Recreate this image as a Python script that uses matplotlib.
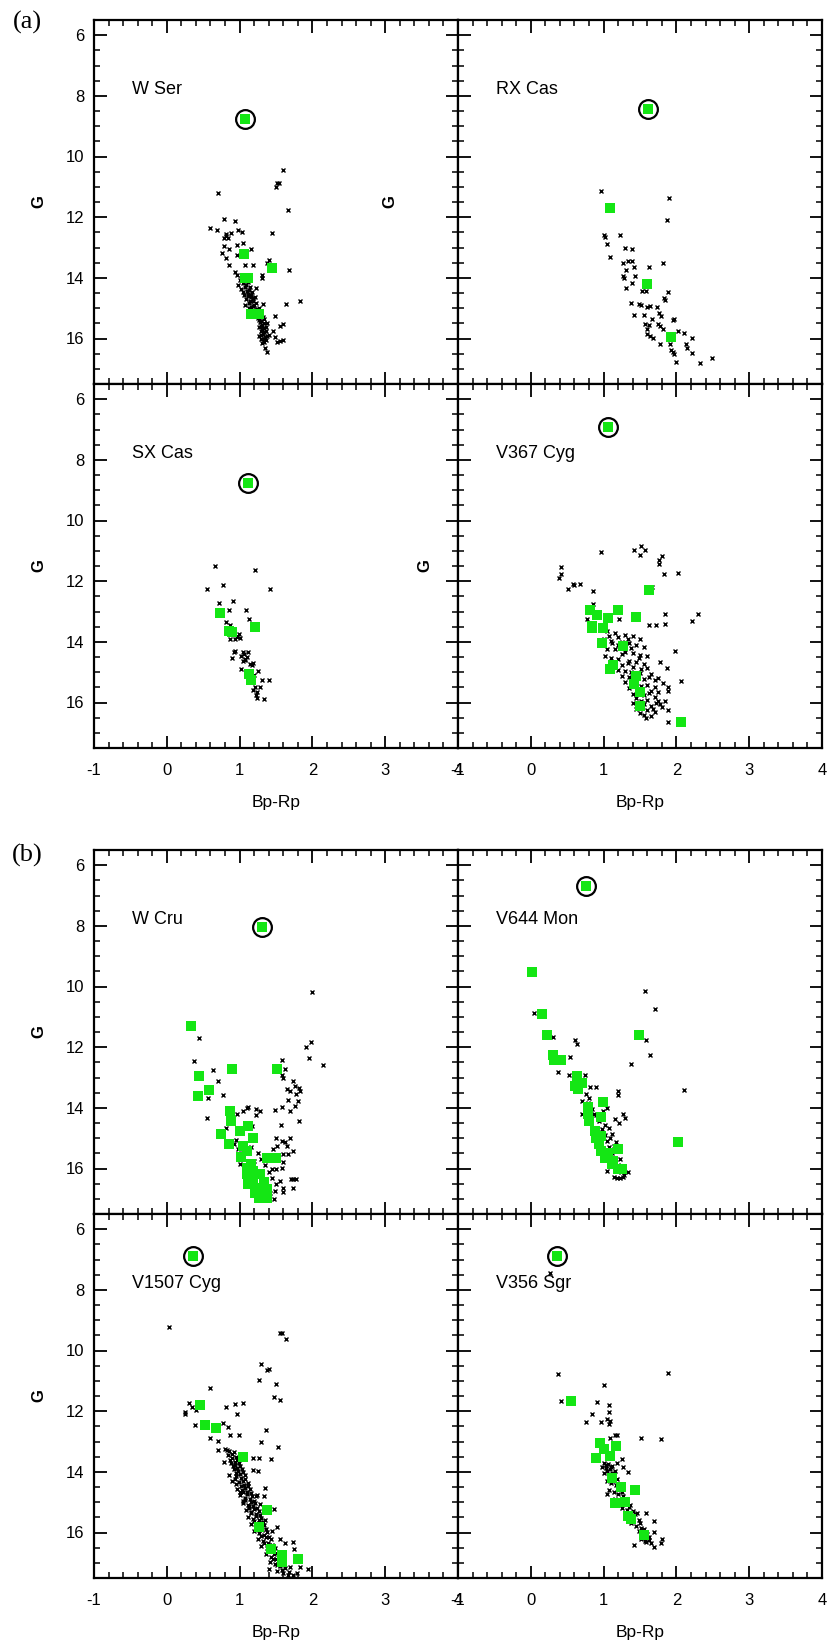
import matplotlib
matplotlib.use("Agg")
import matplotlib.pyplot as plt
from matplotlib.ticker import MultipleLocator

plt.rcParams['font.family'] = ['Liberation Sans', 'DejaVu Sans']

GREEN = '#14e614'

# ---- W Ser ----
wser_target = (1.08, 8.77)
wser_green = [(1.06, 13.22), (1.07, 14.01), (1.12, 14.01), (1.45, 13.69),
              (1.15, 15.20), (1.26, 15.18)]
wser_field = [(1.60, 10.44), (1.52, 10.89), (1.54, 10.87), (1.50, 10.99), (0.70, 11.19),
              (1.66, 11.78), (0.79, 12.05), (0.94, 12.13), (0.60, 12.35), (0.69, 12.42),
              (0.98, 12.41), (1.03, 12.50), (0.88, 12.52), (0.82, 12.55), (0.82, 12.63),
              (0.79, 12.69), (0.84, 12.70), (1.45, 12.53), (1.05, 12.84), (0.96, 12.92),
              (0.78, 12.96), (0.85, 13.05), (1.15, 13.05), (0.76, 13.18), (0.97, 13.26),
              (0.82, 13.36), (1.41, 13.42), (1.37, 13.52), (0.85, 13.58), (1.19, 13.58),
              (1.07, 13.58), (1.68, 13.74), (0.93, 13.82), (0.96, 13.91), (1.31, 13.91),
              (1.31, 14.02), (1.64, 14.85), (1.83, 14.78), (1.32, 14.86), (1.49, 15.26),
              (1.59, 15.53), (1.55, 15.58), (1.48, 15.96), (1.46, 15.74), (1.60, 16.05),
              (1.56, 16.08), (1.51, 16.12), (1.37, 16.43), (1.35, 16.32),
              (1.00, 14.08), (1.05, 14.18), (1.08, 14.30), (1.02, 14.36), (1.10, 14.42),
              (1.12, 14.52), (1.06, 14.56), (1.15, 14.62), (1.09, 14.70), (1.18, 14.76),
              (1.13, 14.82), (1.20, 14.88), (1.16, 14.96), (1.24, 15.02), (1.19, 15.07),
              (1.27, 15.12), (1.22, 15.22), (1.30, 15.26), (1.25, 15.32), (1.33, 15.36),
              (1.28, 15.46), (1.31, 15.55), (1.26, 15.62), (1.34, 15.66), (1.29, 15.76),
              (1.32, 15.86), (1.27, 15.92), (1.35, 15.96), (1.30, 16.02), (1.33, 16.12),
              (1.04, 14.46), (1.11, 14.14), (0.98, 14.24), (1.14, 14.30), (1.21, 14.62),
              (1.36, 15.76), (1.23, 14.32), (1.17, 14.46), (1.07, 14.88), (1.13, 15.00),
              (1.30, 15.42), (1.38, 15.48), (1.40, 15.90),
              (1.02, 14.02), (1.06, 14.12), (1.09, 14.22), (1.13, 14.40), (1.16, 14.55),
              (1.11, 14.60), (1.19, 14.68), (1.14, 14.78), (1.22, 14.82), (1.18, 14.92),
              (1.26, 14.98), (1.21, 15.12), (1.29, 15.18), (1.24, 15.26), (1.32, 15.30),
              (1.27, 15.40), (1.33, 15.50), (1.29, 15.58), (1.36, 15.62), (1.31, 15.70),
              (1.34, 15.80), (1.30, 15.90), (1.37, 15.92), (1.33, 16.00), (1.36, 16.06),
              (1.31, 16.15)]

# ---- RX Cas ----
rxcas_target = (1.61, 8.42)
rxcas_green = [(1.09, 11.69), (1.59, 14.20), (1.92, 15.95)]
rxcas_field = [(0.97, 11.14), (1.90, 11.37), (1.87, 12.09), (1.01, 12.59), (1.02, 12.64),
               (1.22, 12.59), (1.05, 12.89), (1.30, 13.01), (1.39, 13.05), (1.09, 13.32),
               (1.26, 13.52), (1.34, 13.45), (1.39, 13.45), (1.42, 13.64), (1.63, 13.64),
               (1.81, 13.52), (1.31, 13.75), (1.26, 13.95), (1.28, 14.00), (1.43, 13.95),
               (1.39, 14.16), (1.31, 14.33), (1.53, 14.42), (1.58, 14.42), (1.88, 14.46),
               (1.83, 14.68), (1.85, 14.73), (1.37, 14.84), (1.49, 14.85), (1.51, 14.89),
               (1.59, 14.96), (1.64, 14.92), (1.73, 14.96), (1.76, 15.15), (1.79, 15.25),
               (1.42, 15.24), (1.55, 15.24), (1.67, 15.36), (1.96, 15.40), (1.97, 15.36),
               (1.57, 15.52), (1.62, 15.55), (1.75, 15.53), (1.78, 15.58), (1.60, 15.69),
               (1.81, 15.69), (1.60, 15.86), (1.64, 15.91), (1.68, 15.97), (2.02, 15.75),
               (2.11, 15.82), (2.21, 15.98), (2.13, 16.19), (2.14, 16.30), (1.77, 16.19),
               (1.91, 16.19), (1.93, 16.38), (1.95, 16.46), (1.97, 16.52), (1.99, 16.76),
               (2.21, 16.49), (2.32, 16.80), (2.49, 16.63)]

# ---- SX Cas ----
sxcas_target = (1.12, 8.75)
sxcas_green = [(0.73, 13.04), (0.85, 13.64), (0.90, 13.69), (1.21, 13.51),
               (1.13, 15.07), (1.16, 15.25)]
sxcas_field = [(0.66, 11.49), (1.21, 11.64), (0.77, 12.13), (0.55, 12.27), (1.42, 12.26),
               (0.72, 12.71), (0.91, 12.67), (0.85, 12.96), (1.09, 12.96), (1.13, 13.24),
               (0.82, 13.33), (0.87, 13.45), (0.99, 13.75), (0.97, 13.84), (1.01, 13.89),
               (0.87, 13.92), (0.94, 13.92), (0.94, 14.30), (0.92, 14.33), (1.04, 14.35),
               (1.12, 14.33), (1.02, 14.46), (1.07, 14.55), (1.10, 14.49), (1.04, 14.63),
               (0.90, 14.53), (1.02, 14.91), (1.19, 14.71), (1.17, 14.77), (1.25, 14.96),
               (1.31, 15.26), (1.40, 15.27), (1.28, 15.48), (1.19, 15.59), (1.24, 15.67),
               (1.23, 15.76), (1.24, 15.84), (1.34, 15.89), (1.21, 15.48), (1.06, 14.40),
               (1.14, 14.72), (1.08, 14.60), (0.96, 13.80), (1.20, 15.10)]

# ---- V367 Cyg ----
v367_target = (1.06, 6.91)
v367_green = [(1.63, 12.30), (0.82, 12.96), (1.20, 12.95), (0.91, 13.12), (1.45, 13.18),
              (1.06, 13.22), (0.84, 13.48), (0.84, 13.53), (0.99, 13.54), (0.98, 14.04),
              (1.26, 14.13), (1.13, 14.77), (1.09, 14.89), (1.44, 15.12), (1.42, 15.40),
              (1.50, 15.66), (1.50, 16.11), (2.06, 16.65)]
v367_field = [(0.97, 11.04), (1.42, 10.97), (1.51, 10.84), (1.57, 10.97), (1.50, 11.15),
              (1.80, 11.18), (1.76, 11.31), (1.76, 11.43), (0.41, 11.53), (0.41, 11.75),
              (0.39, 11.91), (1.83, 11.77), (2.02, 11.74), (0.51, 12.26), (0.59, 12.14),
              (0.68, 12.08), (0.58, 12.08), (1.67, 12.19), (0.85, 12.32), (0.85, 12.74),
              (0.77, 13.26), (1.21, 13.26), (1.84, 13.09), (2.30, 13.09), (2.21, 13.32),
              (1.84, 13.40), (1.63, 13.44), (1.72, 13.44), (1.98, 14.31), (1.78, 14.68),
              (1.87, 14.85), (1.75, 15.18), (2.07, 15.30), (1.81, 15.37), (1.88, 15.48),
              (1.88, 15.62), (1.89, 16.26), (1.89, 16.64),
              (1.05, 13.65), (1.15, 13.72), (1.30, 13.76), (1.40, 13.82), (1.50, 13.90),
              (1.00, 13.92), (1.10, 13.96), (1.25, 14.02), (1.35, 14.05), (1.45, 14.12),
              (1.55, 14.16), (1.05, 14.22), (1.15, 14.25), (1.30, 14.32), (1.40, 14.36),
              (1.50, 14.42), (1.60, 14.46), (1.10, 14.52), (1.20, 14.55), (1.35, 14.62),
              (1.45, 14.66), (1.55, 14.72), (1.25, 14.76), (1.40, 14.82), (1.60, 14.86),
              (1.20, 14.92), (1.30, 14.96), (1.50, 15.02), (1.65, 15.06), (1.25, 15.12),
              (1.35, 15.16), (1.55, 15.22), (1.70, 15.26), (1.30, 15.32), (1.45, 15.36),
              (1.60, 15.42), (1.35, 15.52), (1.50, 15.56), (1.65, 15.62), (1.75, 15.66),
              (1.40, 15.72), (1.55, 15.76), (1.70, 15.82), (1.45, 15.86), (1.60, 15.92),
              (1.75, 15.96), (1.40, 16.02), (1.55, 16.06), (1.65, 16.12), (1.80, 16.16),
              (1.45, 16.22), (1.60, 16.26), (1.70, 16.32), (1.50, 16.36), (1.65, 16.46),
              (1.58, 16.52), (1.72, 16.02), (1.85, 15.95), (1.20, 14.12), (1.02, 14.46),
              (1.08, 13.80), (1.20, 13.85), (1.33, 13.92), (1.12, 14.05), (1.38, 14.20),
              (1.25, 14.40), (1.48, 14.52), (1.33, 14.70), (1.52, 14.90), (1.38, 15.00),
              (1.62, 15.15), (1.42, 15.25), (1.52, 15.46), (1.70, 15.50), (1.47, 15.65),
              (1.62, 15.70), (1.52, 15.95), (1.68, 16.20), (1.55, 16.40), (1.78, 16.05)]

# ---- W Cru ----
wcru_target = (1.31, 8.03)
wcru_green = [(0.33, 11.30), (0.44, 12.95), (0.89, 12.71), (1.51, 12.71), (0.58, 13.40),
              (0.43, 13.60), (0.87, 14.10), (0.88, 14.45), (0.74, 14.85), (1.12, 14.59),
              (1.01, 14.78), (0.85, 15.18), (1.19, 14.98), (1.04, 15.25), (1.10, 15.42),
              (1.02, 15.62), (1.37, 15.64), (1.50, 15.64), (1.15, 15.84), (1.10, 15.97),
              (1.19, 16.08), (1.10, 16.19), (1.28, 16.19), (1.15, 16.41), (1.33, 16.46),
              (1.24, 16.63), (1.37, 16.68), (1.12, 16.52), (1.26, 16.96), (1.37, 16.96),
              (1.19, 16.36), (1.33, 16.75), (1.21, 16.80)]
wcru_field = [(1.99, 10.18), (1.98, 11.82), (1.91, 12.01), (1.96, 12.35), (2.14, 12.59),
              (0.44, 11.70), (0.38, 12.45), (0.64, 12.76), (0.71, 13.11), (0.77, 13.57),
              (0.56, 13.68), (0.55, 14.33), (1.58, 12.42), (1.63, 12.71), (1.58, 12.91),
              (1.60, 13.00), (1.74, 13.11), (1.76, 13.27), (1.82, 13.33), (1.65, 13.38),
              (1.69, 13.44), (1.78, 13.55), (1.83, 13.46), (1.66, 13.75), (1.80, 13.77),
              (1.76, 13.93), (1.69, 14.10), (1.58, 13.97), (1.49, 14.08), (1.81, 14.43),
              (1.57, 14.57), (1.10, 13.99), (1.12, 13.96), (1.23, 14.05), (0.96, 14.21),
              (1.05, 14.12), (0.82, 14.67), (1.50, 14.98), (1.58, 15.09), (1.63, 15.14),
              (1.69, 14.98), (1.65, 15.25), (1.73, 15.42), (1.52, 15.25), (1.46, 15.36),
              (1.59, 15.53), (1.67, 15.53), (1.59, 15.80), (1.45, 16.02), (1.50, 16.02),
              (1.58, 15.97), (1.70, 16.35), (1.74, 16.33), (1.78, 16.35), (1.56, 16.41),
              (1.60, 16.63), (1.73, 16.63), (1.49, 16.74), (1.59, 16.76), (1.47, 17.01),
              (0.92, 15.20), (0.98, 15.36), (1.03, 15.53), (1.05, 15.45), (1.15, 15.30),
              (1.25, 15.50), (1.30, 15.70), (1.35, 15.90), (1.40, 16.10), (1.45, 16.30),
              (1.50, 16.50), (1.42, 16.80), (1.38, 17.00), (1.20, 15.75), (1.00, 15.85),
              (0.95, 15.05), (1.22, 14.25), (1.28, 14.10), (1.17, 14.60)]

# ---- V644 Mon ----
v644_target = (0.76, 6.70)
v644_green = [(0.02, 9.51), (0.16, 10.92), (0.22, 11.59), (0.30, 12.26), (0.32, 12.41),
              (0.41, 12.43), (1.48, 11.59), (0.63, 12.96), (0.61, 13.27), (0.65, 13.38),
              (0.70, 13.18), (0.99, 13.80), (0.79, 13.97), (0.79, 14.21), (0.80, 14.43),
              (0.96, 14.31), (0.88, 14.76), (0.90, 14.98), (0.93, 15.20), (0.97, 15.42),
              (1.02, 15.64), (1.11, 15.86), (1.20, 16.02), (1.25, 16.02), (1.20, 15.36),
              (0.97, 14.93), (1.06, 15.48), (1.13, 15.75), (2.02, 15.11)]
v644_field = [(1.57, 10.15), (1.70, 10.74), (0.05, 10.89), (0.31, 11.66), (0.61, 11.76),
              (0.64, 11.90), (1.58, 11.76), (1.64, 12.26), (0.54, 12.34), (1.37, 12.56),
              (0.38, 12.82), (0.53, 12.92), (0.75, 12.92), (0.82, 13.31), (0.89, 13.31),
              (0.76, 13.55), (0.80, 13.66), (0.70, 13.77), (1.20, 13.45), (1.20, 13.57),
              (2.11, 13.41), (1.04, 14.01), (0.70, 14.21), (0.87, 14.21), (0.99, 14.12),
              (1.26, 14.21), (1.30, 14.34), (1.15, 14.37), (1.21, 14.51), (1.02, 14.56),
              (1.07, 14.65), (1.11, 14.87), (1.09, 14.98), (1.17, 15.11), (1.14, 15.25),
              (1.23, 15.69), (1.04, 16.08), (1.18, 16.30), (1.26, 16.27), (1.34, 16.13),
              (0.78, 13.85), (0.84, 14.05), (0.90, 14.25), (0.94, 14.45), (0.98, 14.70),
              (1.02, 14.90), (1.05, 15.10), (1.08, 15.30), (1.12, 15.50), (1.16, 15.70),
              (1.20, 15.90), (1.24, 16.10), (1.28, 16.20), (1.14, 16.28), (1.22, 16.32)]

# ---- V1507 Cyg ----
v1507_target = (0.36, 6.89)
v1507_green = [(0.46, 11.80), (0.52, 12.46), (0.68, 12.54), (1.04, 13.51), (1.37, 15.26),
               (1.26, 15.81), (1.43, 16.53), (1.58, 16.75), (1.58, 16.97), (1.80, 16.88)]
v1507_field = [(0.03, 9.23), (1.55, 9.41), (1.58, 9.41), (1.64, 9.63), (1.29, 10.46),
               (1.37, 10.63), (1.41, 10.62), (1.26, 10.98), (1.50, 11.09), (0.60, 11.25),
               (1.47, 11.53), (1.55, 11.64), (0.30, 11.73), (0.34, 11.86), (0.25, 12.02),
               (0.25, 12.08), (0.40, 11.97), (0.94, 11.76), (1.04, 11.73), (0.82, 11.86),
               (0.96, 12.08), (0.39, 12.44), (0.77, 12.38), (0.84, 12.52), (1.36, 12.63),
               (0.60, 12.89), (0.87, 12.77), (0.99, 12.77), (0.71, 12.99), (0.71, 13.29),
               (1.30, 13.02), (1.53, 13.18), (0.79, 13.66), (1.19, 13.56), (1.27, 13.56),
               (1.43, 13.57), (1.19, 13.95), (1.25, 13.97), (1.35, 14.52), (1.33, 14.79),
               (1.24, 14.75), (1.47, 15.24), (1.52, 15.81), (1.63, 16.34), (1.74, 16.31),
               (1.75, 16.53), (1.40, 17.19), (1.51, 17.08), (1.69, 17.13), (1.83, 17.13),
               (1.94, 17.21), (1.79, 17.35),
               (0.80, 13.25), (0.86, 13.30), (0.92, 13.35), (0.84, 13.45), (0.90, 13.55),
               (0.96, 13.60), (0.88, 13.70), (0.94, 13.78), (1.00, 13.82), (0.92, 13.90),
               (0.98, 13.98), (1.04, 14.02), (0.86, 14.10), (0.95, 14.15), (1.02, 14.20),
               (1.08, 14.25), (0.90, 14.30), (0.99, 14.35), (1.06, 14.42), (1.12, 14.48),
               (0.97, 14.55), (1.03, 14.60), (1.10, 14.65), (1.16, 14.70), (1.00, 14.78),
               (1.07, 14.85), (1.14, 14.90), (1.20, 14.95), (1.04, 15.02), (1.11, 15.08),
               (1.18, 15.14), (1.24, 15.18), (1.09, 15.25), (1.16, 15.32), (1.22, 15.38),
               (1.28, 15.42), (1.12, 15.48), (1.19, 15.55), (1.26, 15.60), (1.32, 15.66),
               (1.16, 15.72), (1.23, 15.78), (1.30, 15.84), (1.36, 15.90), (1.20, 15.96),
               (1.27, 16.02), (1.34, 16.08), (1.40, 16.14), (1.25, 16.20), (1.32, 16.28),
               (1.39, 16.34), (1.45, 16.40), (1.30, 16.46), (1.37, 16.52), (1.44, 16.60),
               (1.50, 16.66), (1.36, 16.72), (1.43, 16.80), (1.50, 16.86), (1.56, 16.92),
               (1.42, 16.98), (1.49, 17.05), (1.56, 17.12), (1.62, 17.18), (1.52, 17.28),
               (1.60, 17.35), (1.68, 17.30), (1.74, 17.40), (0.95, 14.40), (1.01, 14.65),
               (1.05, 14.95), (1.13, 15.20), (1.22, 14.80), (1.28, 15.05), (1.35, 15.60),
               (1.45, 15.95), (1.55, 16.20),
               (0.83, 13.28), (0.89, 13.40), (0.95, 13.50), (0.87, 13.62), (0.93, 13.66),
               (0.99, 13.72), (0.91, 13.82), (0.97, 13.86), (1.03, 13.92), (0.95, 14.05),
               (1.01, 14.08), (1.07, 14.12), (0.93, 14.22), (1.05, 14.30), (1.11, 14.36),
               (1.02, 14.46), (1.08, 14.52), (1.14, 14.58), (1.04, 14.68), (1.10, 14.74),
               (1.17, 14.80), (1.08, 14.92), (1.15, 14.98), (1.21, 15.04), (1.13, 15.14),
               (1.20, 15.22), (1.26, 15.28), (1.15, 15.36), (1.23, 15.45), (1.30, 15.52),
               (1.20, 15.62), (1.27, 15.68), (1.34, 15.74), (1.24, 15.86), (1.31, 15.92),
               (1.38, 15.98), (1.29, 16.10), (1.36, 16.16), (1.43, 16.22), (1.34, 16.36),
               (1.41, 16.42), (1.48, 16.50), (1.40, 16.62), (1.47, 16.70), (1.54, 16.76),
               (1.46, 16.88), (1.53, 16.95), (1.60, 17.02), (1.58, 17.22), (1.66, 17.40)]

# ---- V356 Sgr ----
v356_target = (0.36, 6.88)
v356_green = [(0.55, 11.67), (0.95, 13.04), (1.17, 13.15), (1.00, 13.26), (0.90, 13.54),
              (1.09, 13.48), (1.11, 14.20), (1.24, 14.49), (1.43, 14.60), (1.15, 15.02),
              (1.29, 15.00), (1.34, 15.46), (1.38, 15.56), (1.55, 16.09)]
v356_field = [(0.27, 7.43), (0.38, 10.79), (1.88, 10.74), (1.00, 11.13), (0.42, 11.65),
              (0.91, 11.71), (1.07, 11.80), (1.07, 12.02), (0.84, 12.09), (0.76, 12.36),
              (0.96, 12.36), (1.04, 12.27), (1.09, 12.34), (1.07, 12.43), (1.16, 12.80),
              (1.18, 12.80), (1.09, 12.89), (1.51, 12.89), (1.79, 12.91), (1.25, 13.57),
              (1.34, 14.01), (1.26, 13.85), (1.04, 14.74), (1.58, 15.37), (1.69, 15.62),
              (1.69, 15.98), (1.80, 16.22), (1.79, 16.36), (1.42, 16.40), (1.69, 16.47),
              (1.62, 16.25), (1.57, 16.29),
              (1.00, 13.70), (1.06, 13.75), (1.12, 13.80), (1.03, 13.88), (1.09, 13.92),
              (1.15, 13.98), (1.00, 14.05), (1.07, 14.10), (1.13, 14.15), (1.19, 14.22),
              (1.05, 14.30), (1.10, 14.38), (1.17, 14.45), (1.22, 14.52), (1.08, 14.60),
              (1.14, 14.65), (1.20, 14.72), (1.27, 14.80), (1.16, 14.88), (1.23, 14.95),
              (1.30, 15.02), (1.36, 15.10), (1.25, 15.18), (1.32, 15.25), (1.40, 15.30),
              (1.46, 15.35), (1.33, 15.45), (1.41, 15.52), (1.48, 15.60), (1.38, 15.70),
              (1.45, 15.78), (1.52, 15.85), (1.48, 15.95), (1.56, 16.02), (1.62, 16.15),
              (1.58, 16.30), (1.52, 16.20), (1.18, 13.70), (0.98, 13.85), (1.25, 14.40),
              (1.03, 13.78), (1.10, 13.85), (1.05, 13.98), (1.12, 14.05), (1.15, 14.30),
              (1.20, 14.58), (1.25, 14.68), (1.28, 14.88), (1.35, 15.15), (1.43, 15.40),
              (1.50, 15.70), (1.55, 15.90), (1.60, 16.05), (1.65, 16.35)]

names = ['W Ser', 'RX Cas', 'SX Cas', 'V367 Cyg', 'W Cru', 'V644 Mon', 'V1507 Cyg', 'V356 Sgr']
targets = [wser_target, rxcas_target, sxcas_target, v367_target,
           wcru_target, v644_target, v1507_target, v356_target]
greens = [wser_green, rxcas_green, sxcas_green, v367_green,
          wcru_green, v644_green, v1507_green, v356_green]
fields = [wser_field, rxcas_field, sxcas_field, v367_field,
          wcru_field, v644_field, v1507_field, v356_field]

# panel geometry in pixels (figure is 828 x 1645 at dpi 100)
FW, FH = 828, 1645
PW, PH = 364, 364
lefts = [94, 458]
tops = [20, 384, 850, 1214]
# ylabel x-offsets (axes fraction) for the stray right-hand "G" labels in group (a)
right_g = {1: -0.166, 3: -0.07}

fig = plt.figure(figsize=(FW / 100, FH / 100), dpi=100)

for i in range(8):
    row, col = i // 2, i % 2
    l = lefts[col] / FW
    b = 1 - (tops[row] + PH) / FH
    ax = fig.add_axes([l, b, PW / FW, PH / FH])

    fx, fy = zip(*fields[i])
    ax.plot(fx, fy, 'x', color='black', ms=3.4, mew=1.0, zorder=2)
    gx, gy = zip(*greens[i])
    ax.plot(gx, gy, 's', color=GREEN, ms=7.2, mew=0, zorder=3)
    ax.plot(targets[i][0], targets[i][1], 's', color=GREEN, ms=7.2, mew=0, zorder=4)
    ax.plot(targets[i][0], targets[i][1], 'o', mfc='none', mec='black', ms=13.5, mew=1.6, zorder=5)

    ax.text(-0.48, 7.8, names[i], fontsize=13, ha='left', va='center')

    ax.set_xlim(-1, 4)
    ax.set_ylim(17.5, 5.5)
    ax.xaxis.set_major_locator(MultipleLocator(1))
    ax.xaxis.set_minor_locator(MultipleLocator(0.2))
    ax.yaxis.set_major_locator(MultipleLocator(2))
    ax.yaxis.set_minor_locator(MultipleLocator(0.5))
    ax.tick_params(which='both', direction='in', top=True, right=True, labelsize=12)
    ax.tick_params(which='major', length=9, width=1.3)
    ax.tick_params(which='minor', length=4.5, width=1.1)
    ax.tick_params(axis='x', pad=11)
    ax.tick_params(axis='y', pad=7)
    for sp in ax.spines.values():
        sp.set_linewidth(1.6)

    if col == 0:
        ax.set_ylabel('G', fontsize=12, fontweight='bold')
        ax.yaxis.set_label_coords(-0.13, 0.5)
    else:
        ax.set_yticklabels([])
        if i in right_g:
            ax.set_ylabel('G', fontsize=12, fontweight='bold')
            ax.yaxis.set_label_coords(right_g[i], 0.5)
    if row in (1, 3):
        ax.set_xticks([-1, 0, 1, 2, 3, 4])
        ax.set_xticklabels(['-1', '0', '1', '2', '3', '4'])
        ax.set_xlabel('Bp-Rp', fontsize=12.5)
        ax.xaxis.set_label_coords(0.5, -0.13)
    else:
        ax.set_xticklabels([])

fig.text(27.5 / FW, 1 - 22 / FH, '(a)', family='Liberation Serif', fontsize=19, ha='center', va='center')
fig.text(27.5 / FW, 1 - 855 / FH, '(b)', family='Liberation Serif', fontsize=19, ha='center', va='center')

fig.savefig('out.png', dpi=100)
